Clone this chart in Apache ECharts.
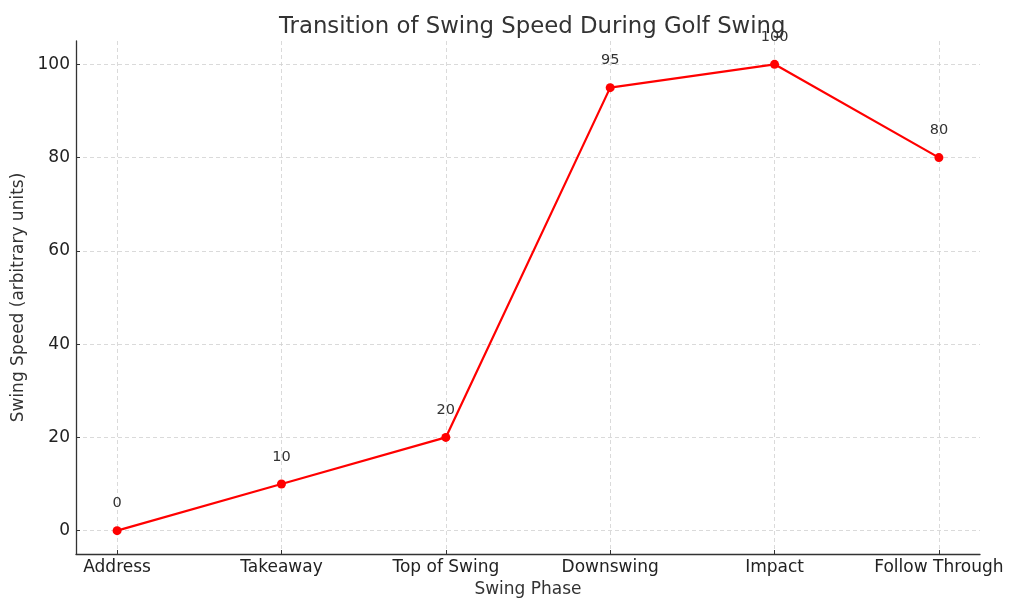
<!DOCTYPE html>
<html>
<head>
<meta charset="utf-8">
<script src="https://cdn.jsdelivr.net/npm/echarts@6/dist/echarts.min.js"></script>
<style>html,body{margin:0;padding:0;background:#fff;}#c{width:1024px;height:614px;}</style>
</head>
<body>
<div id="c"></div>
<script>
const categories = ["Address", "Takeaway", "Top of Swing", "Downswing", "Impact", "Follow Through"];
const speeds = [0, 10, 20, 95, 100, 80];
const yTicks = [0, 20, 40, 60, 80, 100];
const xTicks = [0, 1, 2, 3, 4, 5];

const chart = echarts.init(document.getElementById('c'), null, {renderer: 'canvas'});
const font = 'DejaVu Sans';
const option = {
  animation: false,
  backgroundColor: '#ffffff',
  title: {
    text: 'Transition of Swing Speed During Golf Swing',
    left: 274, top: 11,
    textStyle: {fontFamily: font, fontSize: 22.8, fontWeight: 'normal', color: '#333333'}
  },
  grid: {left: 76, right: 44, top: 41, bottom: 60, containLabel: false},
  xAxis: {
    type: 'value', min: -0.25, max: 5.25,
    name: 'Swing Phase', nameLocation: 'middle', nameGap: 27,
    nameTextStyle: {fontFamily: font, fontSize: 17, color: '#333333'},
    axisLine: {show: true, onZero: false, lineStyle: {color: '#333333', width: 1.3}},
    axisTick: {show: true, inside: true, length: 4, customValues: xTicks, lineStyle: {color: '#333333'}},
    axisLabel: {customValues: xTicks, margin: 5, fontFamily: font, fontSize: 17, color: '#222222',
      formatter: v => categories[Math.round(v)]},
    splitLine: {show: true, lineStyle: {color: '#d0d0d0', type: [4, 3], width: 0.8}}
  },
  yAxis: {
    type: 'value', min: -5, max: 105,
    name: 'Swing Speed (arbitrary units)', nameLocation: 'middle', nameGap: 42,
    nameTextStyle: {fontFamily: font, fontSize: 17, color: '#333333'},
    axisLine: {show: true, onZero: false, lineStyle: {color: '#333333', width: 1.3}},
    axisTick: {show: true, inside: true, length: 4, customValues: yTicks, lineStyle: {color: '#333333'}},
    axisLabel: {customValues: yTicks, margin: 6, fontFamily: font, fontSize: 17, color: '#222222'},
    splitLine: {show: true, lineStyle: {color: '#d0d0d0', type: [4, 3], width: 0.8}}
  },
  series: [{
    type: 'line',
    data: speeds.map((v, i) => [i, v]),
    symbol: 'circle', symbolSize: 9,
    lineStyle: {color: '#ff0000', width: 2.2},
    itemStyle: {color: '#ff0000'},
    label: {show: true, position: 'top', distance: 15, fontFamily: font, fontSize: 14.5, color: '#333333',
      formatter: p => String(p.value[1])}
  }]
};
chart.setOption(option);
</script>
</body>
</html>
